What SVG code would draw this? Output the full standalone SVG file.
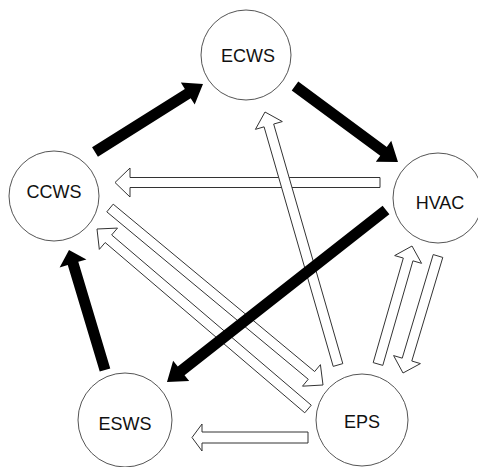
<svg xmlns="http://www.w3.org/2000/svg" width="478" height="467" viewBox="0 0 478 467">
<style>
.node circle{fill:#fff;stroke:#555;stroke-width:1}
.node text{font-family:"Liberation Sans",Arial,sans-serif;font-size:18px;text-anchor:middle;fill:#111}
.solid{fill:#000;stroke:none}
.hollow{fill:#fff;stroke:#333;stroke-width:1;stroke-linejoin:miter}
</style>
<rect width="478" height="467" fill="#fff"/>
<g id="connectors">
<polygon class="hollow" points="380,177.5 130,177.5 130,168 115,182.5 130,197 130,187.5 380,187.5"/>
<polygon class="hollow" points="342.8,363.61 273.68,124.06 282.33,121.57 265,112 255.43,129.33 264.08,126.84 333.2,366.39"/>
<polygon class="hollow" points="382.8,365.38 412.92,260.83 421.57,263.33 412,246 394.67,255.57 403.32,258.07 373.2,362.62"/>
<polygon class="hollow" points="433.21,254.57 402.22,358.16 393.6,355.58 403,373 420.42,363.6 411.8,361.02 442.79,257.43"/>
<polygon class="hollow" points="106.8,211.85 308.26,379.26 302.51,386.18 323,385 320.41,364.64 314.66,371.56 113.2,204.15"/>
<polygon class="hollow" points="311.25,405.2 111.66,234.94 117.5,228.09 97,229 99.32,249.39 105.16,242.54 304.75,412.8"/>
<polygon class="hollow" points="308,432 202,432 202,424 192,437.5 202,451 202,443 308,443"/>
<polygon class="solid" points="97.93,156.65 190.7,98.24 194.7,104.59 203,84 180.84,82.59 184.84,88.94 92.07,147.35"/>
<polygon class="solid" points="291.73,90.43 380.25,155.74 375.8,161.77 398,162 391.24,140.85 386.79,146.88 298.27,81.57"/>
<polygon class="solid" points="382.6,205.67 177.76,366.55 173.13,360.66 167,382 189.19,381.1 184.56,375.21 389.4,214.33"/>
<polygon class="solid" points="110.27,368.42 78.29,261.83 86.43,259.39 69,250 59.61,267.43 67.75,264.99 99.73,371.58"/>
</g>
<g id="ECWS" class="node"><circle cx="246" cy="55" r="45"/><text x="248" y="62">ECWS</text></g>
<g id="CCWS" class="node"><circle cx="54" cy="196" r="45"/><text x="54" y="198">CCWS</text></g>
<g id="HVAC" class="node"><circle cx="438" cy="198" r="45"/><text x="440" y="209">HVAC</text></g>
<g id="ESWS" class="node"><circle cx="125" cy="420" r="47"/><text x="125" y="430">ESWS</text></g>
<g id="EPS" class="node"><circle cx="362" cy="420" r="46"/><text x="362" y="428">EPS</text></g>
</svg>
